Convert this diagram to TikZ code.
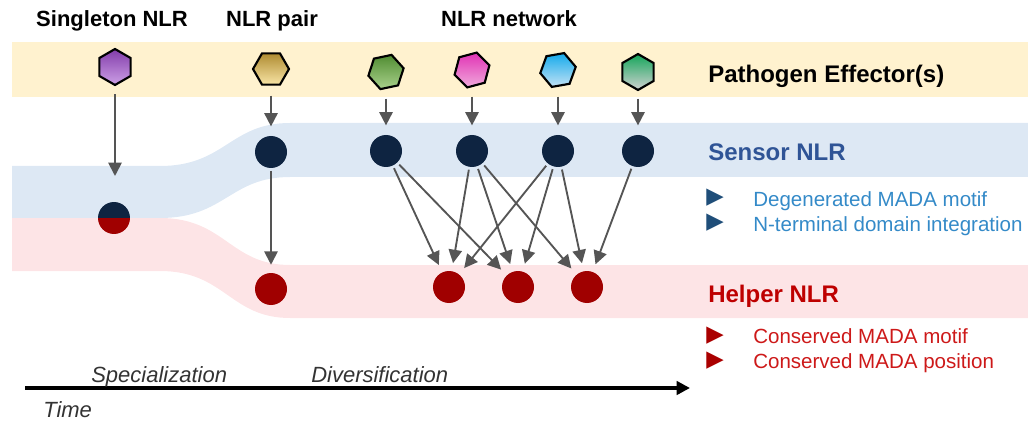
\documentclass[tikz,border=0pt]{standalone}
\usepackage{fontspec}
\setmainfont{Liberation Sans}
\newfontfamily\symbfont{DejaVu Sans}
\usepackage{tikz}
\usetikzlibrary{shapes,arrows.meta}
\definecolor{navy}{RGB}{14,36,65}
\definecolor{darkred}{RGB}{160,0,0}
\definecolor{bandyellow}{RGB}{255,242,207}
\definecolor{bandblue}{RGB}{221,232,244}
\definecolor{bandred}{RGB}{253,228,230}
\definecolor{linkgray}{RGB}{85,85,85}
\definecolor{sensortext}{RGB}{47,84,150}
\definecolor{sensorbullet}{RGB}{31,78,121}
\definecolor{sensornote}{RGB}{52,138,200}
\definecolor{helpertext}{RGB}{190,0,0}
\definecolor{helperbullet}{RGB}{170,0,0}
\definecolor{helpernote}{RGB}{205,25,25}
\definecolor{purpA}{RGB}{130,60,170}
\definecolor{purpB}{RGB}{205,160,230}
\definecolor{goldA}{RGB}{175,140,50}
\definecolor{goldB}{RGB}{248,228,165}
\definecolor{greenA}{RGB}{80,140,50}
\definecolor{greenB}{RGB}{170,210,140}
\definecolor{pinkA}{RGB}{225,50,180}
\definecolor{pinkB}{RGB}{240,170,220}
\definecolor{skyA}{RGB}{20,170,235}
\definecolor{skyB}{RGB}{195,226,245}
\definecolor{tealA}{RGB}{20,165,90}
\definecolor{tealB}{RGB}{210,210,210}
\tikzstyle{sensor}=[circle, inner sep=0pt, minimum size=24pt, fill=navy]
\tikzstyle{helper}=[sensor, fill=darkred]
\tikzstyle{dual}=[circle, inner sep=0pt, minimum size=24pt, path picture={
	\fill[navy] (path picture bounding box.north west) rectangle (path picture bounding box.east);
	\fill[darkred] (path picture bounding box.west) rectangle (path picture bounding box.south east);}]
\tikzstyle{effector}=[regular polygon, regular polygon sides=6, draw=black, line width=1.6pt, minimum size=27pt, inner sep=0pt]
\tikzstyle{link}=[draw=linkgray, line width=1.4pt, -{Triangle[length=10pt,width=10pt]}, shorten <=2pt, shorten >=6pt]
\tikzstyle{title}=[inner sep=0pt, anchor=base, font=\bfseries\fontsize{16.5}{20}\selectfont]
\tikzstyle{bandlabel}=[inner sep=0pt, anchor=base west, font=\bfseries\fontsize{18}{22}\selectfont]
\tikzstyle{note}=[inner sep=0pt, anchor=base west, font=\fontsize{15.4}{18}\selectfont]
\tikzstyle{bullet}=[inner sep=0pt, font=\symbfont\fontsize{17}{19}\selectfont]
\tikzstyle{phase}=[inner sep=0pt, anchor=base west, text=black!80, font=\itshape\fontsize{16.5}{20}\selectfont]

\begin{document}
\begin{tikzpicture}[x=0.75pt, y=-0.75pt]
	\useasboundingbox (0,0) rectangle (1028,424);
	% coloured bands
	\fill[bandyellow] (12,42) rectangle (1028,97);
	\fill[bandblue] (12,166) -- (160,166) .. controls (225,166) and (230,123) .. (290,123) -- (1028,123)
		-- (1028,177) -- (290,177) .. controls (230,177) and (225,218) .. (160,218) -- (12,218) -- cycle;
	\fill[bandred] (12,218) -- (160,218) .. controls (225,218) and (230,265) .. (290,265) -- (1028,265)
		-- (1028,318) -- (290,318) .. controls (230,318) and (225,271) .. (160,271) -- (12,271) -- cycle;

	% column titles
	\node[title] (tsingle) at (112,27) {Singleton NLR};
	\node[title] (tpair) at (272,27) {NLR pair};
	\node[title] (tnet) at (509,27) {NLR network};

	% effectors, using a loop
	\foreach \n/\x/\y/\r/\ca/\cb in {e0/115/67/30/purpA/purpB, e1/271/69/0/goldA/goldB,
		e2/386/72/12/greenA/greenB, e3/472/70/15/pinkA/pinkB, e4/558/70/10/skyA/skyB, e5/638/72/30/tealA/tealB}{
		\node[effector, rotate=\r, top color=\ca, bottom color=\cb] (\n) at (\x,\y) {};
	}

	% sensors and helpers
	\node[dual] (single) at (114,218) {};
	\node[sensor] (s1) at (271,152) {};
	\node[sensor] (s2) at (386,151) {};
	\node[sensor] (s3) at (472,151) {};
	\node[sensor] (s4) at (558,151) {};
	\node[sensor] (s5) at (638,151) {};
	\node[helper] (h1) at (271,289) {};
	\node[helper] (h2) at (449,287) {};
	\node[helper] (h3) at (518,287) {};
	\node[helper] (h4) at (587,287) {};
	\coordinate (singlein) at (115,176);

	% arrows
	\draw[link, shorten <=6pt, shorten >=0pt] (e0) -- (singlein);
	\foreach \i in {1,...,5}{
		\draw[link, shorten <=5pt, shorten >=7pt] (e\i.center) ++(0,20) -- (s\i);
	}
	\draw[link] (s1) -- (h1);
	\foreach \s/\h in {2/2, 2/3, 3/2, 3/3, 3/4, 4/2, 4/3, 4/4, 5/4}{
		\draw[link] (s\s) -- (h\h);
	}

	% labels on the right
	\node[bandlabel] (leff) at (708,83) {Pathogen Effector(s)};
	\node[bandlabel, text=sensortext] (lsen) at (708,161) {Sensor NLR};
	\node[bullet, text=sensorbullet] (bs1) at (715,198) {▶};
	\node[bullet, text=sensorbullet] (bs2) at (715,223) {▶};
	\node[note, text=sensornote] (ns1) at (753,206) {Degenerated MADA motif};
	\node[note, text=sensornote] (ns2) at (753,231) {N-terminal domain integration};
	\node[bandlabel, text=helpertext] (lhlp) at (708,302) {Helper NLR};
	\node[bullet, text=helperbullet] (bh1) at (715,336) {▶};
	\node[bullet, text=helperbullet] (bh2) at (715,361) {▶};
	\node[note, text=helpernote] (nh1) at (753,343) {Conserved MADA motif};
	\node[note, text=helpernote] (nh2) at (753,368) {Conserved MADA position};

	% time axis
	\coordinate (t0) at (25,388);
	\coordinate (t1) at (690,388);
	\draw[line width=3pt, -{Triangle[length=10pt,width=10pt]}] (t0) -- (t1);
	\node[phase] (pspec) at (91,382) {Specialization};
	\node[phase] (pdiv) at (311,382) {Diversification};
	\node[phase] (ptime) at (43,417) {Time};
\end{tikzpicture}
\end{document}
